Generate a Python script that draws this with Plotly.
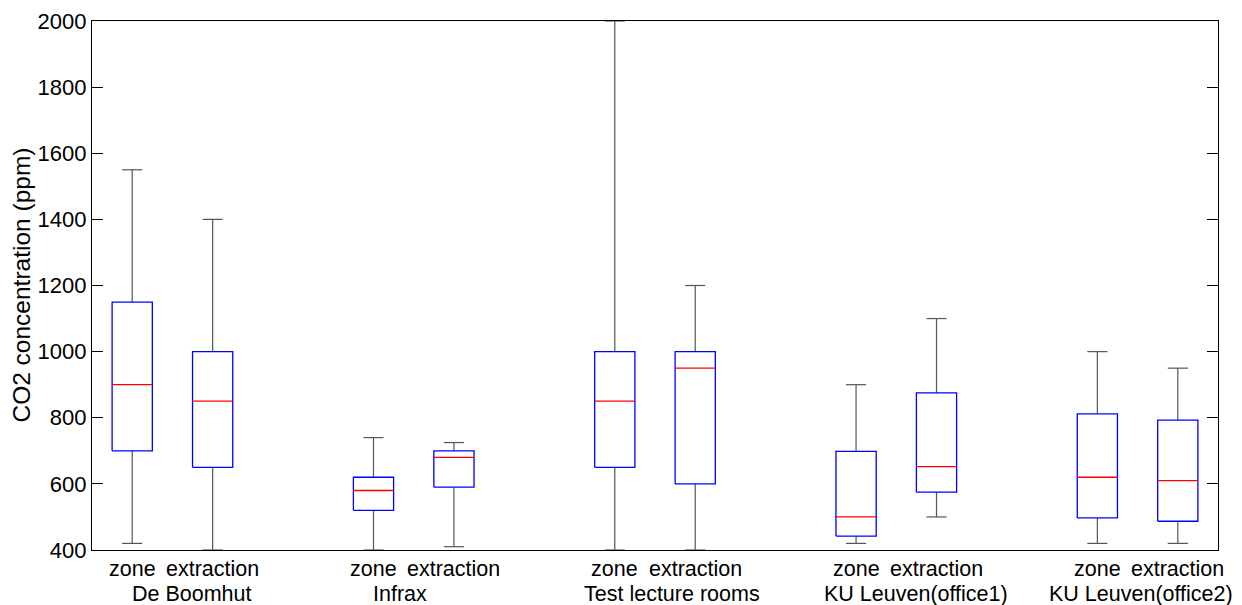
import plotly.graph_objects as go

# ---- data ----
groups = ["De Boomhut", "Infrax", "Test lecture rooms", "KU Leuven(office1)", "KU Leuven(office2)"]
sub_labels = ["zone", "extraction"]
positions = [1, 2, 4, 5, 7, 8, 10, 11, 13, 14]
upper = [1550, 1400, 740, 725, 2000, 1200, 900, 1100, 1000, 950]
q3 = [1150, 1000, 620, 700, 1000, 1000, 698, 875, 812, 793]
median = [900, 850, 580, 680, 850, 950, 500, 652, 620, 610]
q1 = [700, 650, 520, 590, 650, 600, 442, 575, 497, 487]
lower = [420, 400, 400, 410, 400, 400, 420, 500, 420, 420]
group_label_x = [1.74, 4.33, 7.71, 10.745, 13.54]
y_ticks = [400, 600, 800, 1000, 1200, 1400, 1600, 1800, 2000]

box_half = 0.25
cap_half = 0.125

wx, wy = [], []
bx, by = [], []
mx, my = [], []
for p, hi, a, m, b, lo in zip(positions, upper, q3, median, q1, lower):
    # whiskers
    wx += [p, p, None, p, p, None, p - cap_half, p + cap_half, None, p - cap_half, p + cap_half, None]
    wy += [a, hi, None, b, lo, None, hi, hi, None, lo, lo, None]
    # box
    bx += [p - box_half, p + box_half, p + box_half, p - box_half, p - box_half, None]
    by += [b, b, a, a, b, None]
    # median
    mx += [p - box_half, p + box_half, None]
    my += [m, m, None]

fig = go.Figure()
fig.add_trace(go.Scatter(x=wx, y=wy, mode="lines", line=dict(color="#555555", width=1.2),
                         hoverinfo="skip", showlegend=False))
fig.add_trace(go.Scatter(x=bx, y=by, mode="lines", line=dict(color="#0000FF", width=1.3),
                         hoverinfo="skip", showlegend=False))
fig.add_trace(go.Scatter(x=mx, y=my, mode="lines", line=dict(color="#FF0000", width=1.3),
                         hoverinfo="skip", showlegend=False))

font_family = "Liberation Sans, Arial, sans-serif"
annotations = []
for i, p in enumerate(positions):
    annotations.append(dict(x=p, y=-0.036, xref="x", yref="paper", text=sub_labels[i % 2],
                            showarrow=False, xanchor="center", yanchor="middle",
                            font=dict(family=font_family, size=21.5, color="black")))
for g, gx in zip(groups, group_label_x):
    annotations.append(dict(x=gx, y=-0.083, xref="x", yref="paper", text=g,
                            showarrow=False, xanchor="center", yanchor="middle",
                            font=dict(family=font_family, size=21.5, color="black")))
annotations.append(dict(x=-0.063, y=0.5, xref="paper", yref="paper", text="CO2 concentration (ppm)",
                        textangle=-90, showarrow=False, xanchor="center", yanchor="middle",
                        font=dict(family=font_family, size=24.5, color="black")))

fig.update_layout(
    width=1234, height=597,
    margin=dict(l=84, r=24, t=13, b=55),
    plot_bgcolor="white", paper_bgcolor="white",
    annotations=annotations,
    font=dict(family=font_family, size=22, color="black"),
)
fig.update_xaxes(range=[0.5, 14.5], showgrid=False, zeroline=False, showticklabels=False,
                 ticks="", showline=True, linecolor="black", linewidth=1.2, mirror=True,
                 automargin=False)
fig.update_yaxes(range=[400, 2000], tickvals=y_ticks, showgrid=False, zeroline=False,
                 ticks="inside", ticklen=11, tickcolor="black", tickwidth=1,
                 showline=True, linecolor="black", linewidth=1.2, mirror="ticks",
                 tickfont=dict(family=font_family, size=22, color="black"),
                 automargin=False)

fig.write_html("out.html")
